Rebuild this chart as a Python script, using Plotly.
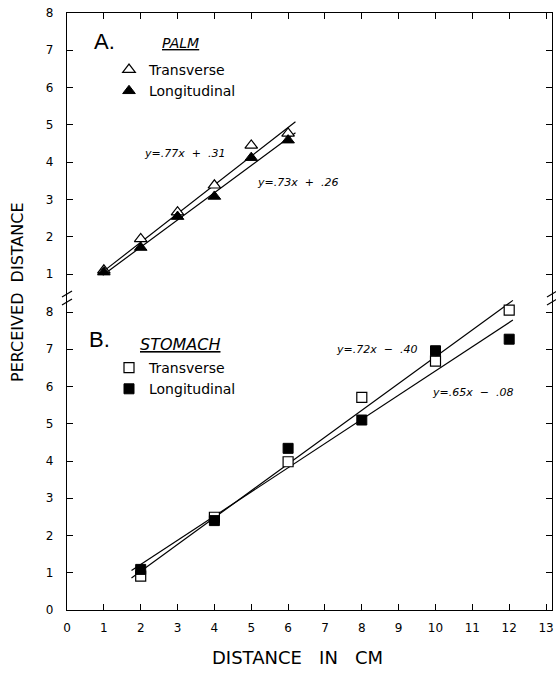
import plotly.graph_objects as go

# ---------------- data ----------------
palm_x = [1, 2, 3, 4, 5, 6]
palm_transverse = [1.1, 1.94, 2.66, 3.38, 4.45, 4.77]
palm_longitudinal = [1.05, 1.71, 2.54, 3.08, 4.12, 4.59]

stomach_x = [2, 4, 6, 8, 10, 12]
stomach_transverse = [0.91, 2.49, 3.98, 5.71, 6.68, 8.05]
stomach_longitudinal = [1.09, 2.40, 4.34, 5.10, 6.96, 7.27]

# regression lines as printed on the chart (slope, intercept, x-extent)
palm_fit_transverse = (0.77, 0.31)
palm_fit_longitudinal = (0.73, 0.26)
palm_fit_x = [0.97, 6.2]
stomach_fit_transverse = (0.72, -0.40)
stomach_fit_longitudinal = (0.65, -0.08)
stomach_fit_x = [1.75, 12.1]

x_ticks = list(range(0, 14))
palm_y_ticks = list(range(1, 9))
stomach_y_ticks = list(range(0, 9))

# ---------------- layout helpers ----------------
W, H = 556, 677
L, R, T, B = 67, 552, 13, 610  # plot area in page pixels
SPLIT = 296
split_frac = (B - SPLIT) / (B - T)
FONT = "DejaVu Sans"


def paper(X, Y):
    return (X - L) / (R - L), (B - Y) / (B - T)


def fit_line(coef, xs):
    return [coef[0] * v + coef[1] for v in xs]


fig = go.Figure()

line_style = dict(color="black", width=1.2)

# palm (top panel: xaxis2 / yaxis)
fig.add_trace(go.Scatter(x=palm_fit_x, y=fit_line(palm_fit_transverse, palm_fit_x),
                         mode="lines", line=line_style, showlegend=False,
                         xaxis="x2", yaxis="y", hoverinfo="skip"))
fig.add_trace(go.Scatter(x=palm_fit_x, y=fit_line(palm_fit_longitudinal, palm_fit_x),
                         mode="lines", line=line_style, showlegend=False,
                         xaxis="x2", yaxis="y", hoverinfo="skip"))
fig.add_trace(go.Scatter(x=palm_x, y=palm_transverse, mode="markers", name="Transverse",
                         marker=dict(symbol="triangle-up", size=11, color="white",
                                     line=dict(color="black", width=1.2)),
                         xaxis="x2", yaxis="y", legend="legend"))
fig.add_trace(go.Scatter(x=palm_x, y=palm_longitudinal, mode="markers", name="Longitudinal",
                         marker=dict(symbol="triangle-up", size=11, color="black",
                                     line=dict(color="black", width=1)),
                         xaxis="x2", yaxis="y", legend="legend"))

# stomach (bottom panel: xaxis / yaxis2)
fig.add_trace(go.Scatter(x=stomach_fit_x, y=fit_line(stomach_fit_transverse, stomach_fit_x),
                         mode="lines", line=line_style, showlegend=False,
                         xaxis="x", yaxis="y2", hoverinfo="skip"))
fig.add_trace(go.Scatter(x=stomach_fit_x, y=fit_line(stomach_fit_longitudinal, stomach_fit_x),
                         mode="lines", line=line_style, showlegend=False,
                         xaxis="x", yaxis="y2", hoverinfo="skip"))
fig.add_trace(go.Scatter(x=stomach_x, y=stomach_transverse, mode="markers", name="Transverse",
                         marker=dict(symbol="square", size=10, color="white",
                                     line=dict(color="black", width=1.2)),
                         xaxis="x", yaxis="y2", legend="legend2"))
fig.add_trace(go.Scatter(x=stomach_x, y=stomach_longitudinal, mode="markers", name="Longitudinal",
                         marker=dict(symbol="square", size=10, color="black",
                                     line=dict(color="black", width=1)),
                         xaxis="x", yaxis="y2", legend="legend2"))

x_range = [0, (R - L) / 36.85]
axis_common = dict(showline=True, linecolor="black", linewidth=1.2, ticks="inside",
                   ticklen=6, tickcolor="black", tickwidth=1.2, showgrid=False,
                   zeroline=False, tickfont=dict(family=FONT, size=12, color="black"))

legend_common = dict(xanchor="left", yanchor="top", bgcolor="rgba(0,0,0,0)",
                     font=dict(family=FONT, size=14, color="black"),
                     itemsizing="trace", tracegroupgap=0)

fig.update_layout(
    width=W, height=H,
    margin=dict(l=L, r=W - R, t=T, b=H - B, autoexpand=False),
    paper_bgcolor="white", plot_bgcolor="white",
    font=dict(family=FONT, color="black"),
    xaxis=dict(domain=[0, 1], anchor="y2", range=x_range, tickvals=x_ticks,
               ticklabelstandoff=6, **axis_common),
    xaxis2=dict(domain=[0, 1], anchor="y", side="top", matches="x", range=x_range,
                tickvals=x_ticks, showticklabels=False, **axis_common),
    yaxis=dict(domain=[split_frac, 1], anchor="x2",
               range=[1 - (SPLIT - 274) / 37.3, 8], tickvals=palm_y_ticks,
               mirror="ticks", ticklabelstandoff=10, **axis_common),
    yaxis2=dict(domain=[0, split_frac], anchor="x",
                range=[0, (B - SPLIT) / 37.25], tickvals=stomach_y_ticks,
                mirror="ticks", ticklabelstandoff=10, **axis_common),
    legend=dict(x=paper(109, 0)[0], y=paper(0, 54)[1], **legend_common),
    legend2=dict(x=paper(109, 0)[0], y=paper(0, 352)[1], **legend_common),
    showlegend=True,
)


def note(text, X, Y, size=12, italic=False, xanchor="center", angle=0, family=FONT):
    px, py = paper(X, Y)
    fig.add_annotation(text=text, x=px, y=py, xref="paper", yref="paper",
                       xanchor=xanchor, yanchor="middle", showarrow=False,
                       textangle=angle,
                       font=dict(family=family, size=size, color="black",
                                 style="italic" if italic else "normal"))


note("A.", 104, 41, size=22, family="Liberation Sans")
note("<u>PALM</u>", 180, 43, size=14, italic=True)
note("y=.77x  +  .31", 184, 153, size=11, italic=True)
note("y=.73x  +  .26", 255, 182, size=11, italic=True, xanchor="left")
note("B.", 99, 339, size=22, family="Liberation Sans")
note("<u>STOMACH</u>", 180, 344, size=16, italic=True)
note("y=.72x  −  .40", 376, 349, size=11, italic=True)
note("y=.65x  −  .08", 472, 393, size=11, italic=True)
note("DISTANCE   IN   CM", 297, 657, size=18)
note("PERCEIVED  DISTANCE", 17, 292, size=16, angle=-90)

# axis-break marks on both sides of the y axis
for xa in (0, 1):
    for off in (2, -6):
        fig.add_shape(type="line", xref="paper", yref="paper",
                      xsizemode="pixel", ysizemode="pixel",
                      xanchor=xa, yanchor=split_frac,
                      x0=-5, x1=5, y0=off - 3, y1=off + 3,
                      line=dict(color="black", width=1.2))

# the page's default 8px body margin would shift the figure; remove it
fig.write_html("out.html", config={"displayModeBar": False},
               post_script="document.body.style.margin='0px';")
